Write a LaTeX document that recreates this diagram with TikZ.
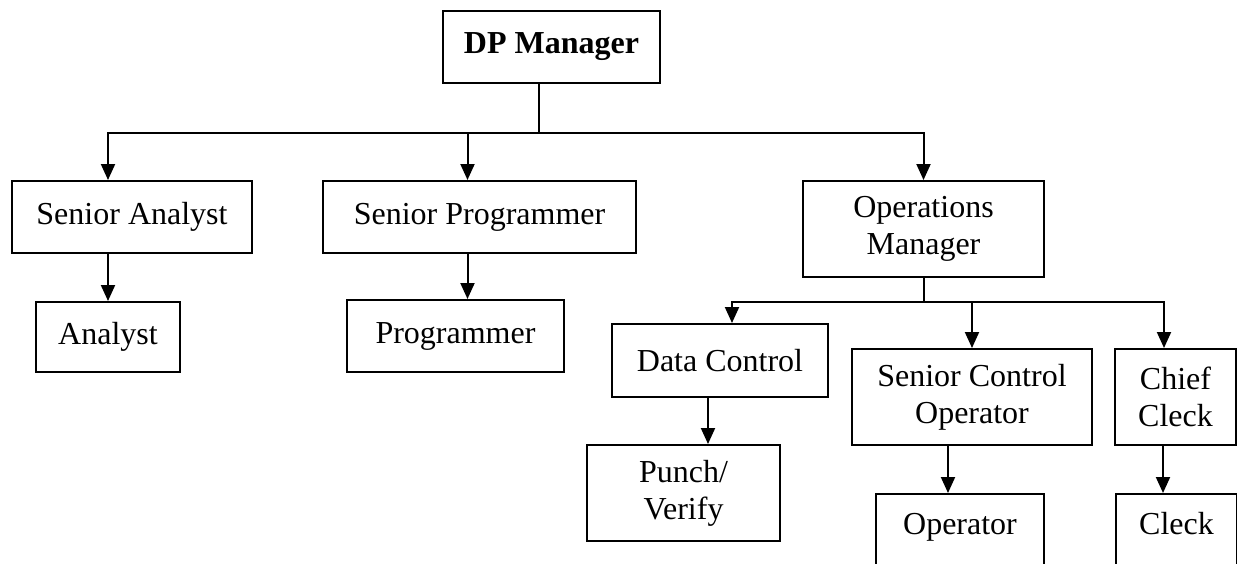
\documentclass[tikz,border=0pt]{standalone}
\usepackage{fontspec}
\setmainfont{Liberation Serif}
\usetikzlibrary{calc,arrows.meta}

\begin{document}
\begin{tikzpicture}[x=0.5pt, y=-0.5pt, >={Triangle[width=7pt,length=8pt]}] % one unit is one pixel of the page

  % Define colors for clarity
  \colorlet{contour}{black}

  % Styles for the boxes and the connection lines
  \tikzset{cargo/.style={draw=contour, line width=1pt, inner sep=0pt, align=center, font=\fontsize{16}{18.5}\selectfont}}
  \tikzset{linea/.style={contour, line width=1pt}}
  \tikzset{flecha/.style={linea, ->}}

  % Page frame, it also cuts the lowest boxes
  \clip (0,0) rectangle (1237,563);

  % Top of the chart
  \node[cargo, minimum width=108.5pt, minimum height=36pt, font=\fontsize{16}{19}\selectfont\bfseries] (dp) at (551.5,47) {DP Manager};

  % Second level
  \node[cargo, minimum width=120pt, minimum height=36pt] (sa) at (132,217) {Senior Analyst};
  \node[cargo, minimum width=156.5pt, minimum height=36pt] (sp) at (479.5,217) {Senior Programmer};
  \node[cargo, minimum width=120.5pt, minimum height=48pt] (ops) at (923.5,229) {Operations\\Manager};

  % Third level
  \node[cargo, minimum width=72pt, minimum height=35pt] (an) at (108,337) {Analyst};
  \node[cargo, minimum width=108.5pt, minimum height=36pt] (pr) at (455.5,336) {Programmer};
  \node[cargo, minimum width=108pt, minimum height=36.5pt] (dc) at (720,360.5) {Data Control};
  \node[cargo, minimum width=120pt, minimum height=48pt] (sco) at (972,397) {Senior Control\\Operator};
  \node[cargo, minimum width=60.5pt, minimum height=48pt] (chief) at (1175.5,397) {Chief\\Cleck};

  % Lowest level, the last two run off the page
  \node[cargo, minimum width=96.5pt, minimum height=48pt] (punch) at (683.5,493) {Punch/\\Verify};
  \node[cargo, anchor=north, minimum width=84pt, text height=20pt, text depth=28pt] (op) at (960,493) {Operator};
  \node[cargo, anchor=north, minimum width=60.5pt, text height=20pt, text depth=28pt] (cleck) at (1176.5,493) {Cleck};

  % Bus under the DP Manager
  \coordinate (dpbus) at (539,133);
  \draw[linea] (dpbus |- dp.south) -- (dpbus);
  \draw[flecha] (dpbus) -| ($(sa.north)+(-24,0)$);
  \draw[flecha] (dpbus) -| ($(sp.north)+(-12,0)$);
  \draw[flecha] (dpbus) -| (ops.north);

  % Down to the third level
  \draw[flecha] (an.north |- sa.south) -- (an.north);
  \coordinate (spdown) at ($(sp.south)+(-12,0)$);
  \draw[flecha] (spdown) -- (spdown |- pr.north);

  % Bus under the Operations Manager
  \coordinate (opsbus) at ($(ops.south)+(0,24)$);
  \draw[linea] (ops.south) -- (opsbus);
  \draw[flecha] (opsbus) -| ($(dc.north)+(12,0)$);
  \draw[flecha] (opsbus) -| (sco.north);
  \draw[flecha] (opsbus) -| ($(chief.north)+(-11.5,0)$);

  % Down to the lowest level
  \coordinate (dcdown) at ($(dc.south)+(-12,0)$);
  \draw[flecha] (dcdown) -- (dcdown |- punch.north);
  \coordinate (scodown) at ($(sco.south)+(-24,0)$);
  \draw[flecha] (scodown) -- (scodown |- op.north);
  \coordinate (chiefdown) at ($(chief.south)+(-12.5,0)$);
  \draw[flecha] (chiefdown) -- (chiefdown |- cleck.north);

\end{tikzpicture}
\end{document}
